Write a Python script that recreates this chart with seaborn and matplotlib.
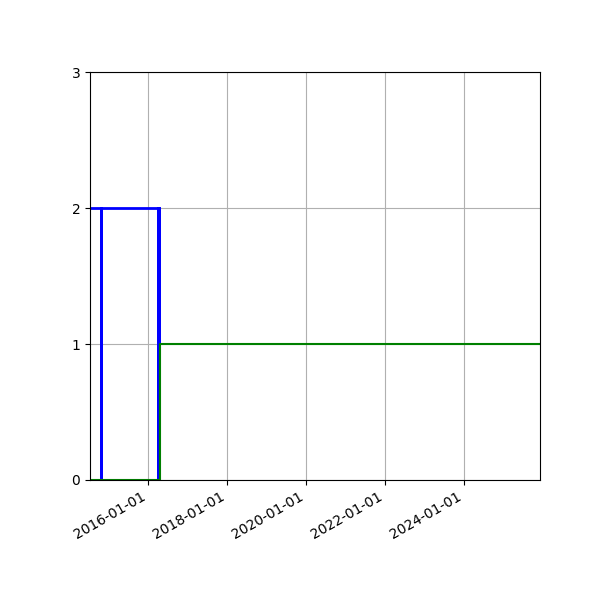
import pandas as pd
import seaborn as sns
import matplotlib.pyplot as plt
import matplotlib.dates as mdates

# blue series (step counts)
blue_dates = ['2014-07-10', '2014-10-22', '2014-10-24', '2016-03-26',
              '2016-03-29', '2016-04-01', '2016-04-04', '2016-04-07',
              '2016-04-10', '2016-04-13']
blue_values = [2, 0, 2, 0, 2, 0, 2, 0, 2, 0]

# green series
green_dates = ['2014-07-10', '2016-04-18', '2025-12-04']
green_values = [0, 1, 1]

x_start, x_end = '2014-07-10', '2025-12-04'

blue = pd.DataFrame({'date': pd.to_datetime(blue_dates), 'value': blue_values})
green = pd.DataFrame({'date': pd.to_datetime(green_dates), 'value': green_values})

fig, ax = plt.subplots(figsize=(6, 6), dpi=100)
sns.lineplot(data=blue, x='date', y='value', color='blue', linewidth=2,
             drawstyle='steps-post', ax=ax)
sns.lineplot(data=green, x='date', y='value', color='green', linewidth=1.5,
             drawstyle='steps-post', ax=ax)

ax.set_xlim(pd.Timestamp(x_start), pd.Timestamp(x_end))
ax.set_ylim(0, 3)
ax.set_yticks([0, 1, 2, 3])
ax.xaxis.set_major_locator(mdates.YearLocator(2))
ax.xaxis.set_major_formatter(mdates.DateFormatter('%Y-%m-%d'))
ax.set_xlabel('')
ax.set_ylabel('')
ax.grid(True)
fig.autofmt_xdate()
plt.subplots_adjust(left=0.15, right=0.9, top=0.88, bottom=0.2)
plt.savefig('out.png', dpi=100)
